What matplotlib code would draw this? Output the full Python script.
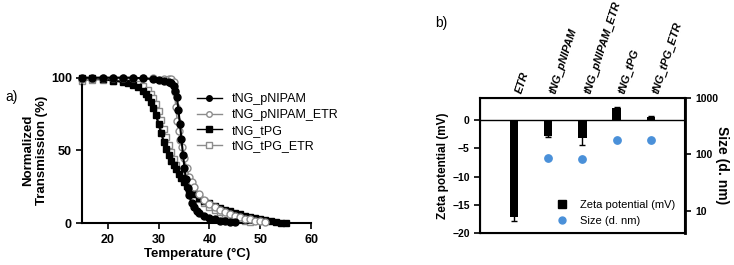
import matplotlib
matplotlib.use("Agg")
import matplotlib.pyplot as plt
from matplotlib.lines import Line2D

plt.rcParams['font.family'] = ['Liberation Sans', 'DejaVu Sans']
plt.rcParams['font.weight'] = 'bold'

# panel a: turbidity curves
t_pn = [15, 17, 19, 21, 23, 25, 27, 29, 30, 31, 32, 32.5, 33, 33.3, 33.6, 33.9, 34.2, 34.5,
        34.8, 35.1, 35.4, 35.7, 36, 36.5, 37, 37.5, 38, 39, 40, 41, 42, 43, 44, 45]
y_pn = [100, 100, 100, 100, 100, 100, 99.5, 99, 98.5, 98, 97, 96, 94, 91, 87, 78, 68, 58,
        47, 38, 30, 24, 19, 14, 11, 8.5, 7, 5, 3.5, 2.5, 1.8, 1.2, 0.8, 0.5]
t_pne = [15, 17, 19, 21, 23, 25, 27, 29, 31, 32, 32.5, 33, 33.2, 33.4, 33.7, 34.0, 34.3, 34.6,
         35, 35.5, 36, 36.5, 37, 38, 39, 40, 41, 42, 43, 44, 45, 46, 47, 48, 49, 50, 51]
y_pne = [99, 99, 99.5, 99.5, 99.5, 99.5, 99.5, 99.5, 99, 99, 99, 97, 90, 80, 70, 63, 57, 52,
         45, 38, 32, 28, 25, 20, 16, 13, 11, 9, 7.5, 6, 5, 4, 3, 2.5, 1.8, 1.2, 0.8]
t_tpg = [15, 17, 19, 21, 23, 24, 25, 26, 27, 27.5, 28, 28.5, 29, 29.5, 30, 30.5, 31, 31.5, 32,
         32.5, 33, 33.5, 34, 34.5, 35, 35.5, 36, 37, 38, 39, 40, 41, 42, 43, 44, 45, 46, 47,
         48, 49, 50, 51, 52, 53, 54, 55]
y_tpg = [100, 99.5, 99, 98, 97, 96, 95, 93.5, 91, 89, 86.5, 83, 79, 74, 68, 62, 56, 51, 47,
         43, 40, 37, 34, 31, 28, 25.5, 23, 20, 17.5, 15.5, 13.5, 12, 10.5, 9, 8, 7, 6, 5,
         4.2, 3.5, 3, 2, 1.3, 0.7, 0.3, 0]
t_tpge = [15, 17, 19, 21, 23, 25, 26, 27, 28, 28.5, 29, 29.5, 30, 30.5, 31, 31.5, 32, 32.5, 33,
          33.5, 34, 34.5, 35, 35.5, 36, 37, 38, 39, 40, 41, 42, 43, 44, 45, 46, 47, 48]
y_tpge = [98, 98.5, 98.5, 98, 97.5, 96.5, 95.5, 94, 91.5, 89, 86, 82, 77, 71, 65, 59, 54, 49,
          44, 40, 36, 33, 30, 27, 24, 20, 16.5, 13.5, 11, 9, 7.5, 6, 4.5, 3.5, 2.5, 1.5, 0.8]

# panel b: zeta potential and size
samples = ['ETR', 'tNG_pNIPAM', 'tNG_pNIPAM_ETR', 'tNG_tPG', 'tNG_tPG_ETR']
zeta = [-17.2, -2.8, -3.2, 2.1, 0.6]
zeta_err = [0.6, 0.2, 1.2, 0.2, 0.1]
size_x = [1, 2, 3, 4]
size_nm = [87, 83, 179, 180]

fig = plt.figure(figsize=(7.34, 2.65), dpi=100)

ax1 = fig.add_axes([0.112, 0.158, 0.312, 0.549])
grey = '#8c8c8c'
ax1.plot(t_pn, y_pn, '-o', color='black', ms=5, lw=1.5, clip_on=False, zorder=4)
ax1.plot(t_pne, y_pne, '-o', color=grey, mfc='white', mec=grey, ms=5, lw=1.2, clip_on=False, zorder=3)
ax1.plot(t_tpg, y_tpg, '-s', color='black', ms=5, lw=1.5, clip_on=False, zorder=2)
ax1.plot(t_tpge, y_tpge, '-s', color=grey, mfc='white', mec=grey, ms=5, lw=1.2, clip_on=False, zorder=1)
ax1.set_xlim(15, 60)
ax1.set_ylim(0, 100)
ax1.set_xticks([20, 30, 40, 50, 60])
ax1.set_yticks([0, 50, 100])
for s in ['top', 'right']:
    ax1.spines[s].set_visible(False)
for s in ['left', 'bottom']:
    ax1.spines[s].set_linewidth(1.5)
ax1.tick_params(labelsize=9, width=1.2, length=4)
ax1.set_xlabel('Temperature (°C)', fontsize=9.5, fontweight='bold', labelpad=2)
ax1.set_ylabel('Normalized\nTransmission (%)', fontsize=9.5, fontweight='bold', labelpad=2)
handles = [
    Line2D([], [], color='black', marker='o', ms=4, lw=1),
    Line2D([], [], color=grey, marker='o', mfc='white', mec=grey, ms=4, lw=1),
    Line2D([], [], color='black', marker='s', ms=4, lw=1),
    Line2D([], [], color=grey, marker='s', mfc='white', mec=grey, ms=4, lw=1),
]
ax1.legend(handles, ['tNG_pNIPAM', 'tNG_pNIPAM_ETR', 'tNG_tPG', 'tNG_tPG_ETR'],
           loc='upper left', bbox_to_anchor=(0.45, 0.97), frameon=False,
           prop={'size': 9, 'weight': 'normal'}, handlelength=2, labelspacing=0.3)

fig.text(0.008, 0.62, 'a)', fontsize=10, fontweight='normal')

# panel b
ax2 = fig.add_axes([0.654, 0.121, 0.279, 0.51])
x = list(range(len(samples)))
ax2.bar(x, zeta, width=0.24, color='black', yerr=zeta_err, capsize=2,
        error_kw={'elinewidth': 1, 'capthick': 1}, zorder=2)
ax2.axhline(0, color='black', lw=1, zorder=3)
ax2.set_xlim(-1, 5)
ax2.set_ylim(-20, 4)
ax2.set_yticks([-20, -15, -10, -5, 0])
ax2.set_xticks(x)
ax2.set_xticklabels(samples, rotation=72, ha='left', fontsize=8, style='italic')
ax2.xaxis.tick_top()
ax2.tick_params(axis='x', length=0, pad=2)
ax2.tick_params(axis='y', labelsize=7.5, width=1.2, length=4)
for s in ax2.spines.values():
    s.set_linewidth(1.5)
ax2.set_ylabel('Zeta potential (mV)', fontsize=8.5, fontweight='bold', labelpad=2)

ax3 = ax2.twinx()
ax3.scatter(size_x, size_nm, s=28, color='#4a90d9', zorder=4)
ax3.set_yscale('log')
ax3.set_ylim(4.1, 1000)
ax3.set_yticks([10, 100, 1000])
ax3.set_yticklabels(['10', '100', '1000'])
ax3.minorticks_off()
ax3.tick_params(axis='y', labelsize=7.5, width=1.2, length=4)
ax3.spines['right'].set_linewidth(2)
ax3.set_ylabel('Size (d. nm)', fontsize=10, fontweight='bold', rotation=270, labelpad=8)

h2 = [Line2D([], [], color='black', marker='s', ms=6, lw=0),
      Line2D([], [], color='#4a90d9', marker='o', ms=5, lw=0)]
ax3.legend(h2, ['Zeta potential (mV)', 'Size (d. nm)'], loc='lower right',
           bbox_to_anchor=(1.0, -0.02), frameon=False, prop={'size': 8, 'weight': 'normal'},
           handletextpad=0.6, labelspacing=0.5)

fig.text(0.593, 0.9, 'b)', fontsize=10, fontweight='normal')

fig.savefig('out.png', dpi=100)
